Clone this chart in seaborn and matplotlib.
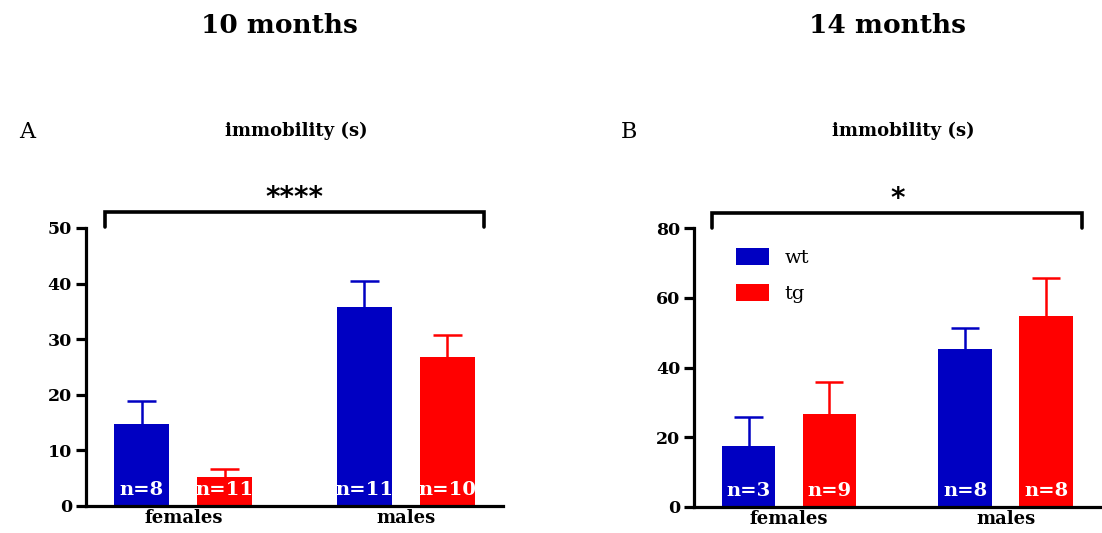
import numpy as np
import pandas as pd
import matplotlib
matplotlib.use("Agg")
import matplotlib.pyplot as plt
import seaborn as sns
from matplotlib.patches import Patch

# ------------------------------------------
# Data
# ------------------------------------------

sexes = ["females", "males"]
genotypes = ["wt", "tg"]

# panel A - 10 months
a_wt_mean = [14.7, 35.8]
a_wt_sem = [4.2, 4.7]
a_tg_mean = [5.2, 26.8]
a_tg_sem = [1.4, 4.0]
a_wt_n = [8, 11]
a_tg_n = [11, 10]

# panel B - 14 months
b_wt_mean = [17.5, 45.3]
b_wt_sem = [8.3, 6.0]
b_tg_mean = [26.6, 54.7]
b_tg_sem = [9.2, 10.9]
b_wt_n = [3, 8]
b_tg_n = [9, 8]

colors = {"wt": "#0000C2", "tg": "#FF0000"}

sns.set_style("ticks", {"text.color": "black", "axes.edgecolor": "black",
                        "axes.labelcolor": "black", "xtick.color": "black",
                        "ytick.color": "black"})
plt.rcParams['font.family'] = ['DejaVu Serif']


def make_df(wt_mean, wt_sem, tg_mean, tg_sem, wt_n, tg_n):
    return pd.DataFrame({
        "sex": sexes * 2,
        "genotype": ["wt"] * 2 + ["tg"] * 2,
        "mean": wt_mean + tg_mean,
        "sem": wt_sem + tg_sem,
        "n": wt_n + tg_n,
    })


def draw_panel(ax, df, ymax, yticks, stars, bracket_y, bracket_h):
    sns.barplot(data=df, x="sex", y="mean", hue="genotype",
                hue_order=genotypes, palette=colors, order=sexes,
                width=0.746, gap=0.338, errorbar=None, saturation=1,
                linewidth=0, legend=False, ax=ax)

    # error bars (upper only) + n labels
    cap = 0.065
    for cont, g in zip(ax.containers, genotypes):
        sub = df[df["genotype"] == g].set_index("sex").loc[sexes]
        xs = np.array([b.get_x() + b.get_width() / 2 for b in cont])
        top = sub["mean"].values + sub["sem"].values
        ax.vlines(xs, sub["mean"].values, top, color=colors[g], lw=1.8)
        ax.hlines(top, xs - cap, xs + cap, color=colors[g], lw=1.8)
        for x, n in zip(xs, sub["n"]):
            ax.annotate(f"n={n}", (x, 0), xytext=(0, 5),
                        textcoords="offset points", ha="center", va="bottom",
                        color="white", fontsize=14, fontweight="bold",
                        zorder=3)

    ax.set_xlim(-0.438, 1.436)
    ax.set_ylim(0, ymax)
    ax.set_yticks(yticks)
    ax.set_xlabel("")
    ax.set_ylabel("")
    sns.despine(ax=ax)
    for s in ["left", "bottom"]:
        ax.spines[s].set_linewidth(2.3)
        ax.spines[s].set_zorder(4)
    ax.tick_params(axis="y", length=7, width=2.3, labelsize=12.5, pad=3)
    ax.tick_params(axis="x", length=0, labelsize=13, pad=2)
    for lab in ax.get_xticklabels() + ax.get_yticklabels():
        lab.set_fontweight("bold")

    # significance bracket
    bx = [-0.353, -0.353, 1.351, 1.351]
    by = [bracket_y - bracket_h, bracket_y, bracket_y, bracket_y - bracket_h]
    ax.plot(bx, by, color="black", lw=2.6, clip_on=False,
            solid_capstyle="round", solid_joinstyle="miter")
    ax.text(0.5, bracket_y, stars, ha="center", va="bottom",
            fontsize=20, fontweight="bold", family="DejaVu Sans")


fig = plt.figure(figsize=(11.02, 5.33), dpi=100)
ax1 = fig.add_axes([0.078, 0.0507, 0.3784, 0.5216])
ax2 = fig.add_axes([0.6298, 0.0488, 0.3684, 0.5234])

draw_panel(ax1, make_df(a_wt_mean, a_wt_sem, a_tg_mean, a_tg_sem, a_wt_n, a_tg_n),
           50, [0, 10, 20, 30, 40, 50], "****", 52.9, 2.7)
draw_panel(ax2, make_df(b_wt_mean, b_wt_sem, b_tg_mean, b_tg_sem, b_wt_n, b_tg_n),
           80, [0, 20, 40, 60, 80], "*", 84.3, 4.3)

handles = [Patch(facecolor=colors[g], edgecolor="none", label=g) for g in genotypes]
ax2.legend(handles=handles, loc="upper left", bbox_to_anchor=(0.06, 0.99),
           frameon=False, fontsize=14, handlelength=1.7, handleheight=0.95,
           labelspacing=0.85, handletextpad=0.8)

# titles
fig.text(0.254, 0.953, "10 months", ha="center", va="center",
         fontsize=19, fontweight="bold")
fig.text(0.805, 0.953, "14 months", ha="center", va="center",
         fontsize=19, fontweight="bold")
fig.text(0.017, 0.752, "A", ha="left", va="center", fontsize=16)
fig.text(0.563, 0.752, "B", ha="left", va="center", fontsize=16)
fig.text(0.269, 0.755, "immobility (s)", ha="center", va="center",
         fontsize=13, fontweight="bold")
fig.text(0.820, 0.755, "immobility (s)", ha="center", va="center",
         fontsize=13, fontweight="bold")

plt.savefig("out.png", dpi=100)
